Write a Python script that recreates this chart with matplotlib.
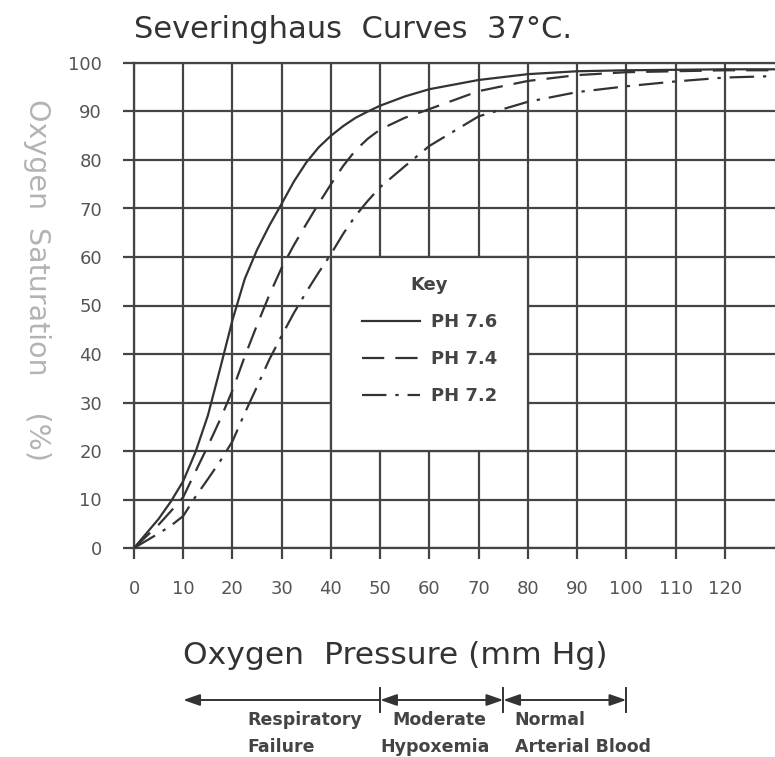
import matplotlib
matplotlib.use("Agg")
import matplotlib.pyplot as plt
import matplotlib.transforms as mtransforms
from matplotlib.patches import Rectangle

# oxygen pressure (mm Hg) and saturation (%)
po2 = [0, 5, 7.5, 10, 12.5, 15, 17.5, 20, 22.5, 25, 27.5, 30, 32.5, 35, 37.5, 40,
       42.5, 45, 47.5, 50, 55, 60, 70, 80, 90, 100, 110, 120, 130]
sat_76 = [0, 6, 9.6, 13.8, 19.8, 27.3, 37, 47, 55.5, 61.5, 66.5, 71, 75.6, 79.5, 82.6, 85,
          87, 88.7, 90, 91.2, 93.1, 94.6, 96.5, 97.7, 98.3, 98.5, 98.6, 98.7, 98.7]
sat_74 = [0, 4.8, 7.6, 10.5, 15.8, 21, 26.5, 32.5, 39.5, 46, 52.2, 57.8, 62.5, 66.8, 71, 75,
          78.8, 82, 84.4, 86.3, 88.7, 90.5, 94.2, 96.3, 97.5, 98.1, 98.3, 98.5, 98.5]
sat_72 = [0, 3, 4.6, 6.6, 10.6, 14.2, 17.9, 22, 27.8, 33.3, 38.9, 43.8, 48.5, 52.8, 56.8, 60.6,
          64.8, 68.5, 71.6, 74.4, 78.7, 82.9, 89, 92, 94, 95.2, 96.2, 97, 97.3]

x_ticks = list(range(0, 130, 10))
y_ticks = list(range(0, 101, 10))

# ranges under the axis: (start, end, arrow style)
ranges = [(10, 50, "-|>"), (50, 75, "<|-|>"), (75, 100, "<|-|>")]
range_text = [("Respiratory", "Failure"), ("Moderate", "Hypoxemia"),
              ("Normal", "Arterial Blood")]

ink = "#333333"
grid_c = "#444444"

fig = plt.figure(figsize=(7.75, 7.57), dpi=100)
ax = fig.add_axes([134 / 775, 1 - 548 / 757, 641 / 775, 485 / 757])

ax.set_xlim(0, 130.2)
ax.set_ylim(0, 100)
ax.set_xticks(x_ticks)
ax.set_yticks(y_ticks)
ax.set_axisbelow(True)
ax.grid(True, color=grid_c, lw=1.6)
for s in ["left", "bottom", "top"]:
    ax.spines[s].set_color(grid_c)
    ax.spines[s].set_linewidth(1.6)
ax.spines["right"].set_visible(False)
ax.tick_params(direction="out", length=8, width=1.6, color=grid_c,
               labelcolor="#555555", labelsize=13)
ax.tick_params(axis="x", pad=15)
ax.tick_params(axis="y", pad=15)

# blank key box cut out of the grid
ax.add_patch(Rectangle((40, 20), 40, 40, facecolor="white", edgecolor=grid_c,
                       lw=1.6, zorder=1.5))

ax.plot(po2, sat_76, color=ink, lw=1.6, label="PH 7.6", zorder=3)
ax.plot(po2, sat_74, color=ink, lw=1.6, ls=(0, (10, 5)), label="PH 7.4", zorder=3)
ax.plot(po2, sat_72, color=ink, lw=1.6, ls=(0, (11, 4, 1.5, 4)), label="PH 7.2", zorder=3)

leg = ax.legend(title="Key", loc="center", bbox_to_anchor=(0.461, 0.428),
                frameon=False, handlelength=3.2, handletextpad=0.6,
                labelspacing=1.05, prop={"weight": "bold", "size": 13})
leg.get_title().set_fontsize(13)
leg.get_title().set_fontweight("bold")
leg.get_title().set_color("#444444")
for t in leg.get_texts():
    t.set_color("#444444")

fig.text(134 / 775, 1 - 29 / 757, "Severinghaus  Curves  37°C.", fontsize=22,
         color="#333333", va="center", ha="left")
fig.text(183 / 775, 1 - 655 / 757, "Oxygen  Pressure (mm Hg)", fontsize=22.6,
         color="#333333", va="center", ha="left")
fig.text(37 / 775, 1 - 280 / 757, "Oxygen  Saturation    (%)", fontsize=20.5,
         color="#b3b3b3", va="center", ha="center", rotation=-90)

trans = mtransforms.blended_transform_factory(ax.transData, fig.transFigure)
y_arrow = 1 - 700 / 757
for x0, x1, style in ranges:
    ax.annotate("", xy=(x0, y_arrow), xytext=(x1, y_arrow), xycoords=trans,
                textcoords=trans,
                arrowprops=dict(arrowstyle=style + ",head_length=1.0,head_width=0.35",
                                color=ink, lw=1.4, shrinkA=0, shrinkB=0),
                annotation_clip=False)
    ax.plot([x1, x1], [y_arrow - 12 / 757, y_arrow + 12 / 757], transform=trans,
            color=ink, lw=1.4, clip_on=False)

# labels under the arrows
text_x = [(23.1, 23.1), (52.4, 50.0), (77.3, 77.3)]
for (top, bottom), (xa, xb) in zip(range_text, text_x):
    ax.text(xa, 1 - 720 / 757, top, transform=trans, fontsize=12.5,
            fontweight="bold", color="#444444", ha="left", va="center")
    ax.text(xb, 1 - 747 / 757, bottom, transform=trans, fontsize=12.5,
            fontweight="bold", color="#444444", ha="left", va="center")

fig.savefig("out.png", dpi=100)
